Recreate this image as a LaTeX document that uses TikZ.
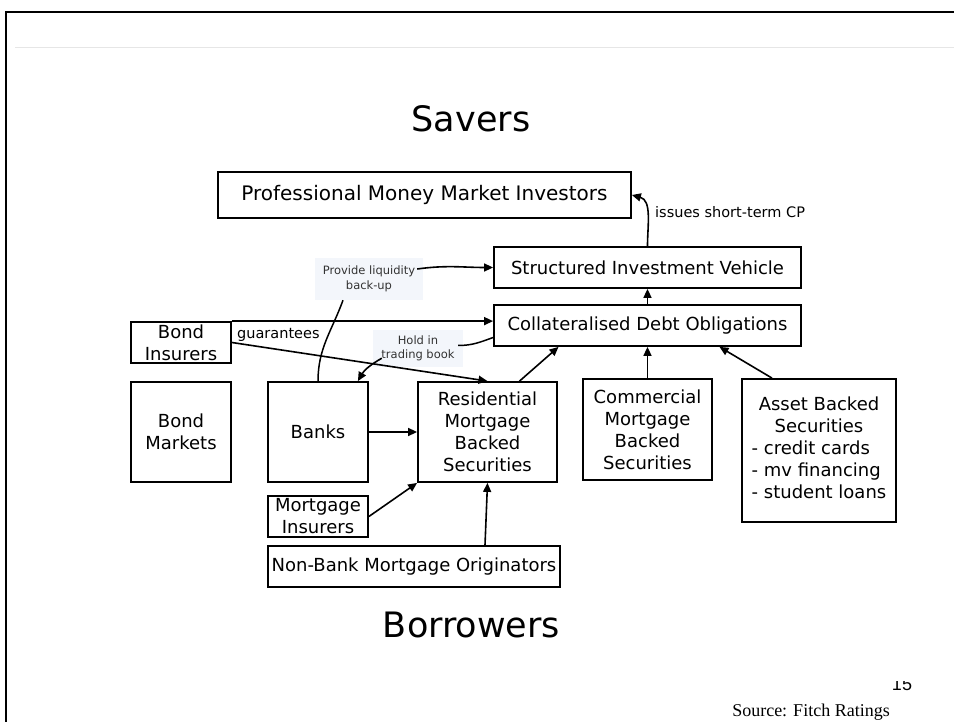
\documentclass[tikz,border=0pt]{standalone}
\usepackage{fontspec}
\newfontfamily\slidefont{DejaVu Sans}
\newfontfamily\sourcefont{Liberation Serif}
\newfontfamily\pagefont{Liberation Sans}
\usepackage{xcolor}
\definecolor{notebg}{HTML}{F3F6FB}
\definecolor{notetext}{HTML}{333333}
\definecolor{rulegray}{HTML}{E6E6E6}
\usepackage{tikz}
\usetikzlibrary{arrows.meta}

\begin{document}
\begin{tikzpicture}[x=1pt, y=1pt,
      font=\slidefont,
      box/.style={rectangle, draw, line width=1.8pt, align=center, inner sep=0pt,
                  font=\slidefont\fontsize{18}{22}\selectfont},
      heading/.style={anchor=base, inner sep=0pt, font=\slidefont\fontsize{35}{40}\selectfont},
      lbl/.style={anchor=base west, inner sep=0pt, font=\slidefont\fontsize{14.5}{17}\selectfont},
      note/.style={rectangle, fill=notebg, text=notetext, align=center, inner sep=0pt,
                   font=\slidefont\fontsize{11.5}{14.5}\selectfont},
      arr/.style={-{Triangle[length=9pt, width=8pt]}, line width=1.6pt},
      link/.style={line width=1.5pt},
    ]
    \useasboundingbox (0,0) rectangle (954,-722);
    % slide frame
    \draw[line width=2.5pt] (6,-722) -- (6,-12) -- (954,-12);
    \draw[rulegray, line width=1pt] (15,-48) -- (954,-48);

    \node[heading] (savers)    at (471,-132)   {Savers};
    \node[heading] (borrowers) at (471.5,-637) {Borrowers};

    \node[box, minimum width=413pt, minimum height=46pt,
          font=\slidefont\fontsize{20}{24}\selectfont] (pmmi) at (424.5,-195) {Professional Money Market Investors};
    \node[box, minimum width=307pt, minimum height=41pt] (siv)  at (647.5,-267.5) {Structured Investment Vehicle};
    \node[box, minimum width=307pt, minimum height=41pt] (cdo)  at (647.5,-325.5) {Collateralised Debt Obligations};
    \node[box, minimum width=100pt, minimum height=41pt] (bondins) at (181,-342.5) {Bond\\Insurers};
    \node[box, minimum width=100pt, minimum height=100pt] (bondmkt) at (181,-432) {Bond\\Markets};
    \node[box, minimum width=100pt, minimum height=100pt] (banks)   at (318,-432) {Banks};
    \node[box, minimum width=139pt, minimum height=100pt] (rmbs)    at (487.5,-432) {Residential\\Mortgage\\Backed\\Securities};
    \node[box, minimum width=100pt, minimum height=41pt] (mortins)  at (318,-516.5) {Mortgage\\Insurers};
    \node[box, minimum width=292pt, minimum height=41pt] (nbmo)     at (414,-566.5) {Non-Bank Mortgage Originators};
    \node[box, minimum width=129pt, minimum height=101pt] (cmbs)    at (647.5,-429.5) {Commercial\\Mortgage\\Backed\\Securities};
    \node[box, minimum width=154pt, minimum height=143pt] (abs)     at (819,-450.5)
      {\begin{tabular}{@{}l@{}}\multicolumn{1}{@{}c@{}}{Asset Backed}\\\multicolumn{1}{@{}c@{}}{Securities}\\- credit cards\\- mv financing\\- student loans\end{tabular}};

    \node[lbl] (cplbl)   at (655,-218) {issues short-term CP};
    \node[lbl] (guarlbl) at (237,-338) {guarantees};
    \node[note, minimum width=108pt, minimum height=42pt] (liqlbl)  at (369,-279)   {Provide liquidity\\back-up};
    \node[note, minimum width=90pt, minimum height=37pt]  (holdlbl) at (418,-348.5) {Hold in\\trading book};

    \draw[arr] (siv.north) to[out=90, in=-15] (pmmi.east);
    \draw[arr] (cdo) -- (siv);
    \draw[arr] ([xshift=32pt]rmbs.north) -- ([xshift=-89pt]cdo.south);
    \draw[arr] (cmbs) -- (cdo);
    \draw[arr] ([xshift=-47pt]abs.north) -- ([xshift=72pt]cdo.south);
    \draw[arr] (banks) -- (rmbs);
    \draw[arr] (mortins.east) -- (rmbs.south west);
    \draw[arr] ([xshift=71pt]nbmo.north) -- (rmbs.south);
    \draw[arr] (bondins.north east) -- (bondins.north east -| cdo.west);
    \draw[arr] (bondins.east) -- (rmbs.north);

    \draw[link] (banks.north) to[out=90, in=-110] ([xshift=-26pt]liqlbl.south);
    \draw[arr] ([xshift=-6pt,yshift=10pt]liqlbl.east) to[out=8, in=180] (siv.west);
    \draw[link] ([yshift=-12pt]cdo.west) to[out=200, in=0] ([xshift=-5pt,yshift=3pt]holdlbl.east);
    \draw[arr] ([xshift=9pt,yshift=9pt]holdlbl.south west) to[out=210, in=60] ([xshift=-11pt]banks.north east);

    \begin{scope}
      \clip (880,-681) rectangle (930,-700);
      \node[anchor=base, inner sep=0pt, font=\pagefont\fontsize{18}{20}\selectfont] (pagenum) at (902,-690) {15};
    \end{scope}
    \node[anchor=base, inner sep=0pt, font=\sourcefont\fontsize{18}{20}\selectfont] (source) at (811,-716) {Source: Fitch Ratings};
  \end{tikzpicture}
\end{document}
